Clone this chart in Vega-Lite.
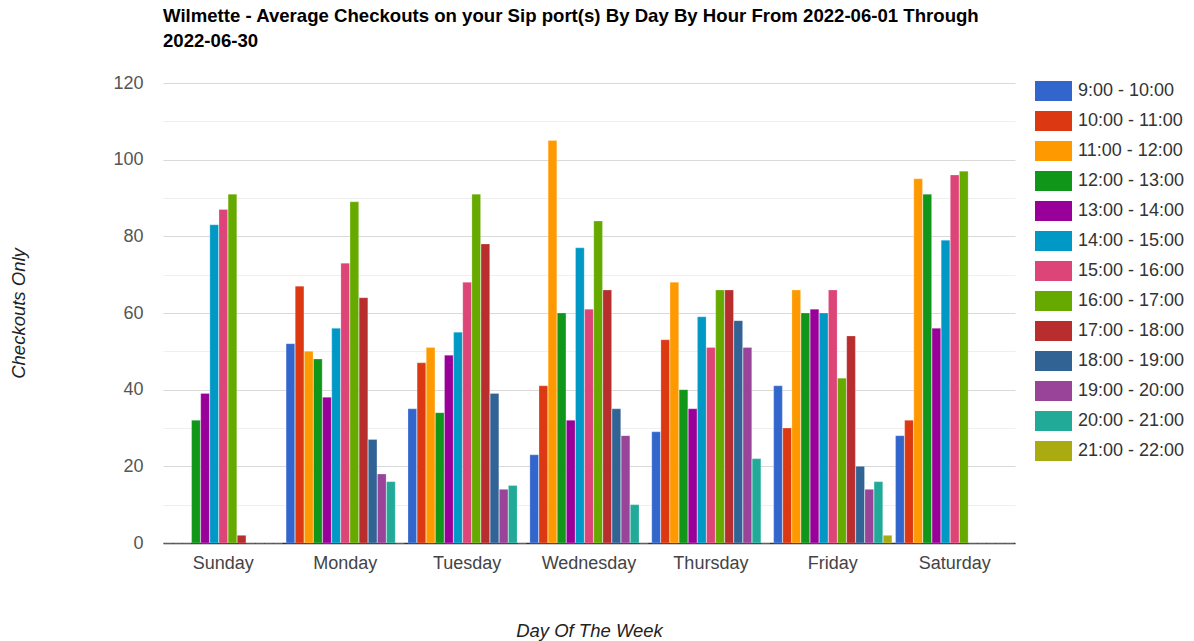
{
  "$schema": "https://vega.github.io/schema/vega-lite/v6.json",
  "autosize": "none",
  "width": 852,
  "height": 460,
  "padding": {"left": 163, "top": 83, "right": 179, "bottom": 98},
  "background": "white",
  "view": {"stroke": null},
  "title": {
    "text": ["Wilmette - Average Checkouts on your Sip port(s) By Day By Hour From 2022-06-01 Through", "2022-06-30"],
    "anchor": "start",
    "frame": "group",
    "font": "Liberation Sans",
    "fontSize": 18.6,
    "fontWeight": "bold",
    "color": "#000",
    "lineHeight": 25,
    "offset": 23
  },
  "data": {
    "values": [
      {"day": "Sunday", "hour": "9:00 - 10:00", "value": 0},
      {"day": "Sunday", "hour": "10:00 - 11:00", "value": 0},
      {"day": "Sunday", "hour": "11:00 - 12:00", "value": 0},
      {"day": "Sunday", "hour": "12:00 - 13:00", "value": 32},
      {"day": "Sunday", "hour": "13:00 - 14:00", "value": 39},
      {"day": "Sunday", "hour": "14:00 - 15:00", "value": 83},
      {"day": "Sunday", "hour": "15:00 - 16:00", "value": 87},
      {"day": "Sunday", "hour": "16:00 - 17:00", "value": 91},
      {"day": "Sunday", "hour": "17:00 - 18:00", "value": 2},
      {"day": "Sunday", "hour": "18:00 - 19:00", "value": 0},
      {"day": "Sunday", "hour": "19:00 - 20:00", "value": 0},
      {"day": "Sunday", "hour": "20:00 - 21:00", "value": 0},
      {"day": "Sunday", "hour": "21:00 - 22:00", "value": 0},
      {"day": "Monday", "hour": "9:00 - 10:00", "value": 52},
      {"day": "Monday", "hour": "10:00 - 11:00", "value": 67},
      {"day": "Monday", "hour": "11:00 - 12:00", "value": 50},
      {"day": "Monday", "hour": "12:00 - 13:00", "value": 48},
      {"day": "Monday", "hour": "13:00 - 14:00", "value": 38},
      {"day": "Monday", "hour": "14:00 - 15:00", "value": 56},
      {"day": "Monday", "hour": "15:00 - 16:00", "value": 73},
      {"day": "Monday", "hour": "16:00 - 17:00", "value": 89},
      {"day": "Monday", "hour": "17:00 - 18:00", "value": 64},
      {"day": "Monday", "hour": "18:00 - 19:00", "value": 27},
      {"day": "Monday", "hour": "19:00 - 20:00", "value": 18},
      {"day": "Monday", "hour": "20:00 - 21:00", "value": 16},
      {"day": "Monday", "hour": "21:00 - 22:00", "value": 0},
      {"day": "Tuesday", "hour": "9:00 - 10:00", "value": 35},
      {"day": "Tuesday", "hour": "10:00 - 11:00", "value": 47},
      {"day": "Tuesday", "hour": "11:00 - 12:00", "value": 51},
      {"day": "Tuesday", "hour": "12:00 - 13:00", "value": 34},
      {"day": "Tuesday", "hour": "13:00 - 14:00", "value": 49},
      {"day": "Tuesday", "hour": "14:00 - 15:00", "value": 55},
      {"day": "Tuesday", "hour": "15:00 - 16:00", "value": 68},
      {"day": "Tuesday", "hour": "16:00 - 17:00", "value": 91},
      {"day": "Tuesday", "hour": "17:00 - 18:00", "value": 78},
      {"day": "Tuesday", "hour": "18:00 - 19:00", "value": 39},
      {"day": "Tuesday", "hour": "19:00 - 20:00", "value": 14},
      {"day": "Tuesday", "hour": "20:00 - 21:00", "value": 15},
      {"day": "Tuesday", "hour": "21:00 - 22:00", "value": 0},
      {"day": "Wednesday", "hour": "9:00 - 10:00", "value": 23},
      {"day": "Wednesday", "hour": "10:00 - 11:00", "value": 41},
      {"day": "Wednesday", "hour": "11:00 - 12:00", "value": 105},
      {"day": "Wednesday", "hour": "12:00 - 13:00", "value": 60},
      {"day": "Wednesday", "hour": "13:00 - 14:00", "value": 32},
      {"day": "Wednesday", "hour": "14:00 - 15:00", "value": 77},
      {"day": "Wednesday", "hour": "15:00 - 16:00", "value": 61},
      {"day": "Wednesday", "hour": "16:00 - 17:00", "value": 84},
      {"day": "Wednesday", "hour": "17:00 - 18:00", "value": 66},
      {"day": "Wednesday", "hour": "18:00 - 19:00", "value": 35},
      {"day": "Wednesday", "hour": "19:00 - 20:00", "value": 28},
      {"day": "Wednesday", "hour": "20:00 - 21:00", "value": 10},
      {"day": "Wednesday", "hour": "21:00 - 22:00", "value": 0},
      {"day": "Thursday", "hour": "9:00 - 10:00", "value": 29},
      {"day": "Thursday", "hour": "10:00 - 11:00", "value": 53},
      {"day": "Thursday", "hour": "11:00 - 12:00", "value": 68},
      {"day": "Thursday", "hour": "12:00 - 13:00", "value": 40},
      {"day": "Thursday", "hour": "13:00 - 14:00", "value": 35},
      {"day": "Thursday", "hour": "14:00 - 15:00", "value": 59},
      {"day": "Thursday", "hour": "15:00 - 16:00", "value": 51},
      {"day": "Thursday", "hour": "16:00 - 17:00", "value": 66},
      {"day": "Thursday", "hour": "17:00 - 18:00", "value": 66},
      {"day": "Thursday", "hour": "18:00 - 19:00", "value": 58},
      {"day": "Thursday", "hour": "19:00 - 20:00", "value": 51},
      {"day": "Thursday", "hour": "20:00 - 21:00", "value": 22},
      {"day": "Thursday", "hour": "21:00 - 22:00", "value": 0},
      {"day": "Friday", "hour": "9:00 - 10:00", "value": 41},
      {"day": "Friday", "hour": "10:00 - 11:00", "value": 30},
      {"day": "Friday", "hour": "11:00 - 12:00", "value": 66},
      {"day": "Friday", "hour": "12:00 - 13:00", "value": 60},
      {"day": "Friday", "hour": "13:00 - 14:00", "value": 61},
      {"day": "Friday", "hour": "14:00 - 15:00", "value": 60},
      {"day": "Friday", "hour": "15:00 - 16:00", "value": 66},
      {"day": "Friday", "hour": "16:00 - 17:00", "value": 43},
      {"day": "Friday", "hour": "17:00 - 18:00", "value": 54},
      {"day": "Friday", "hour": "18:00 - 19:00", "value": 20},
      {"day": "Friday", "hour": "19:00 - 20:00", "value": 14},
      {"day": "Friday", "hour": "20:00 - 21:00", "value": 16},
      {"day": "Friday", "hour": "21:00 - 22:00", "value": 2},
      {"day": "Saturday", "hour": "9:00 - 10:00", "value": 28},
      {"day": "Saturday", "hour": "10:00 - 11:00", "value": 32},
      {"day": "Saturday", "hour": "11:00 - 12:00", "value": 95},
      {"day": "Saturday", "hour": "12:00 - 13:00", "value": 91},
      {"day": "Saturday", "hour": "13:00 - 14:00", "value": 56},
      {"day": "Saturday", "hour": "14:00 - 15:00", "value": 79},
      {"day": "Saturday", "hour": "15:00 - 16:00", "value": 96},
      {"day": "Saturday", "hour": "16:00 - 17:00", "value": 97},
      {"day": "Saturday", "hour": "17:00 - 18:00", "value": 0},
      {"day": "Saturday", "hour": "18:00 - 19:00", "value": 0},
      {"day": "Saturday", "hour": "19:00 - 20:00", "value": 0},
      {"day": "Saturday", "hour": "20:00 - 21:00", "value": 0},
      {"day": "Saturday", "hour": "21:00 - 22:00", "value": 0}
    ]
  },
  "mark": {"type": "bar", "stroke": "white", "strokeWidth": 0.4, "strokeOpacity": 0.6},
  "encoding": {
    "x": {
      "field": "day",
      "type": "nominal",
      "sort": ["Sunday", "Monday", "Tuesday", "Wednesday", "Thursday", "Friday", "Saturday"],
      "scale": {"paddingInner": 0.03, "paddingOuter": 0.01},
      "axis": {
        "title": "Day Of The Week",
        "titleFont": "Liberation Sans",
        "titleFontSize": 18.5,
        "titleFontStyle": "italic",
        "titleFontWeight": "normal",
        "titleColor": "#222",
        "titleY": 87,
        "titleBaseline": "middle",
        "labelAngle": 0,
        "labelFont": "Liberation Sans",
        "labelFontSize": 18,
        "labelColor": "#444",
        "labelPadding": 11,
        "ticks": false,
        "domainColor": "#333",
        "domainWidth": 1.5,
        "grid": false
      }
    },
    "xOffset": {
      "field": "hour",
      "type": "nominal",
      "sort": ["9:00 - 10:00", "10:00 - 11:00", "11:00 - 12:00", "12:00 - 13:00", "13:00 - 14:00", "14:00 - 15:00", "15:00 - 16:00", "16:00 - 17:00", "17:00 - 18:00", "18:00 - 19:00", "19:00 - 20:00", "20:00 - 21:00", "21:00 - 22:00"],
      "scale": {"paddingInner": 0.05, "paddingOuter": 0}
    },
    "y": {
      "field": "value",
      "type": "quantitative",
      "scale": {"domain": [0, 120], "nice": false},
      "axis": {
        "title": "Checkouts Only",
        "titleFont": "Liberation Sans",
        "titleFontSize": 18.5,
        "titleFontStyle": "italic",
        "titleFontWeight": "normal",
        "titleColor": "#222",
        "titleX": -145,
        "titleY": 230,
        "titleAngle": -90,
        "titleAlign": "center",
        "titleBaseline": "middle",
        "values": [0, 10, 20, 30, 40, 50, 60, 70, 80, 90, 100, 110, 120],
        "labelExpr": "datum.value % 20 == 0 ? datum.label : ''",
        "labelFont": "Liberation Sans",
        "labelFontSize": 18,
        "labelColor": "#555",
        "labelPadding": 20,
        "ticks": false,
        "domain": false,
        "gridColor": {"condition": {"test": "datum.value % 20 == 0", "value": "#d9d9d9"}, "value": "#efefef"},
        "gridWidth": 1
      }
    },
    "color": {
      "field": "hour",
      "type": "nominal",
      "sort": ["9:00 - 10:00", "10:00 - 11:00", "11:00 - 12:00", "12:00 - 13:00", "13:00 - 14:00", "14:00 - 15:00", "15:00 - 16:00", "16:00 - 17:00", "17:00 - 18:00", "18:00 - 19:00", "19:00 - 20:00", "20:00 - 21:00", "21:00 - 22:00"],
      "scale": {
        "domain": ["9:00 - 10:00", "10:00 - 11:00", "11:00 - 12:00", "12:00 - 13:00", "13:00 - 14:00", "14:00 - 15:00", "15:00 - 16:00", "16:00 - 17:00", "17:00 - 18:00", "18:00 - 19:00", "19:00 - 20:00", "20:00 - 21:00", "21:00 - 22:00"],
        "range": ["#3366cc", "#dc3912", "#ff9900", "#109618", "#990099", "#0099c6", "#dd4477", "#66aa00", "#b82e2e", "#316395", "#994499", "#22aa99", "#aaaa11"]
      },
      "legend": {
        "title": null,
        "orient": "none",
        "legendX": 872,
        "legendY": -2,
        "symbolType": "M-1,-0.54H1V0.54H-1Z",
        "symbolSize": 1369,
        "symbolStrokeWidth": 0,
        "symbolOpacity": 1,
        "clipHeight": 20,
        "rowPadding": 10,
        "labelFont": "Liberation Sans",
        "labelFontSize": 18,
        "labelColor": "#333",
        "labelOffset": 6,
        "labelLimit": 200
      }
    }
  }
}
